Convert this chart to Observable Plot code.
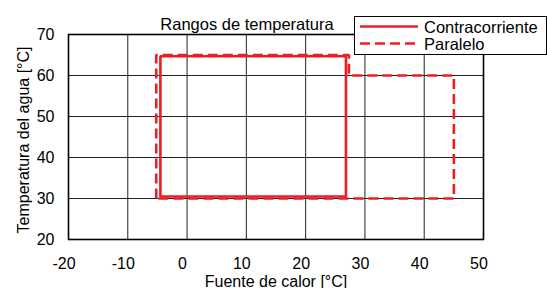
<!DOCTYPE html>
<html>
<head>
<meta charset="utf-8">
<script src="https://cdn.jsdelivr.net/npm/d3@7"></script>
<script src="https://cdn.jsdelivr.net/npm/@observablehq/plot@0.6"></script>
<style>
  html, body { margin: 0; padding: 0; background: #fff; }
  #wrap { position: relative; width: 547px; height: 288px; font-family: "Liberation Sans", Arial, sans-serif; }
  #legend { position: absolute; left: 354px; top: 16px; width: 191px; height: 37px; background: #fff; border: 1px solid #000; }
  #legend svg { position: absolute; left: 0; top: 0; }
</style>
</head>
<body>
<div id="wrap"></div>
<script>
const titleText = "Rangos de temperatura";
const xLabel = "Fuente de calor [°C]";
const yLabel = "Temperatura del agua [°C]";
const xTicks = [-20, -10, 0, 10, 20, 30, 40, 50];
const yTicks = [20, 30, 40, 50, 60, 70];
const seriesNames = ["Contracorriente", "Paralelo"];
const contraX = [-4.5, -4.5, 26.8, 26.8, -4.5];
const contraY = [30.5, 64.7, 64.7, 30.5, 30.5];
const paraleloX = [-5.2, -5.2, 27.3, 27.3, 45, 45, -5.2];
const paraleloY = [30, 65, 65, 60, 60, 30, 30];

const red = "#ee1c25";
const contra = contraX.map((x, i) => ({x, y: contraY[i]}));
const paralelo = paraleloX.map((x, i) => ({x, y: paraleloY[i]}));

const chart = Plot.plot({
  width: 547,
  height: 288,
  marginLeft: 68,
  marginRight: 64,
  marginTop: 34,
  marginBottom: 49,
  style: {fontFamily: "'Liberation Sans', Arial, sans-serif", fontSize: "16px", color: "#000", background: "#fff", overflow: "visible"},
  x: {domain: [-20, 50]},
  y: {domain: [20, 70]},
  marks: [
    Plot.gridX(xTicks, {stroke: "#222", strokeOpacity: 1, strokeWidth: 1}),
    Plot.gridY(yTicks, {stroke: "#222", strokeOpacity: 1, strokeWidth: 1}),
    Plot.axisX(xTicks, {tickSize: 0, tickPadding: 18, dx: -4.5, label: null, fontSize: 16, tickFormat: d => String(d)}),
    Plot.axisY(yTicks, {tickSize: 0, tickPadding: 14, label: null, fontSize: 16, tickFormat: d => String(d)}),
    Plot.line(paralelo, {x: "x", y: "y", stroke: red, strokeWidth: 2.6, strokeDasharray: "10,5", strokeLinejoin: "miter", strokeLinecap: "butt"}),
    Plot.line(contra, {x: "x", y: "y", stroke: red, strokeWidth: 2.6, strokeLinejoin: "miter"}),
    Plot.frame({stroke: "#000", strokeWidth: 1.6}),
    Plot.text([titleText], {text: d => d, frameAnchor: "top", dx: -29, dy: -16, fontSize: 16.5, fill: "#000"}),
    Plot.text([xLabel], {text: d => d, frameAnchor: "bottom", dy: 47, fontSize: 16, fill: "#000"}),
    Plot.text([yLabel], {text: d => d, frameAnchor: "left", textAnchor: "middle", rotate: -90, dx: -45, dy: 3, fontSize: 16, fill: "#000"})
  ]
});
const wrap = document.getElementById("wrap");
wrap.appendChild(chart);

const legend = document.createElement("div");
legend.id = "legend";
const ns = "http://www.w3.org/2000/svg";
const lsvg = document.createElementNS(ns, "svg");
lsvg.setAttribute("width", 191);
lsvg.setAttribute("height", 37);
seriesNames.forEach((name, i) => {
  const yy = 9.5 + i * 17;
  const line = document.createElementNS(ns, "line");
  line.setAttribute("x1", 5); line.setAttribute("x2", 63);
  line.setAttribute("y1", yy); line.setAttribute("y2", yy);
  line.setAttribute("stroke", red); line.setAttribute("stroke-width", 2.6);
  if (i === 1) line.setAttribute("stroke-dasharray", "10,5");
  lsvg.appendChild(line);
  const t = document.createElementNS(ns, "text");
  t.setAttribute("x", 69); t.setAttribute("y", yy + 6);
  t.setAttribute("font-size", 16.5);
  t.setAttribute("font-family", "'Liberation Sans', Arial, sans-serif");
  t.textContent = name;
  lsvg.appendChild(t);
});
legend.appendChild(lsvg);
wrap.appendChild(legend);
</script>
</body>
</html>
